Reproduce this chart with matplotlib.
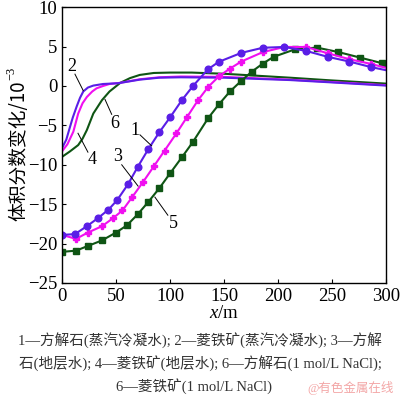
import matplotlib
matplotlib.use('Agg')
import matplotlib.pyplot as plt

plt.rcParams['font.family'] = ['Liberation Serif', 'Noto Sans CJK SC']
plt.rcParams['mathtext.fontset'] = 'custom'
plt.rcParams['mathtext.rm'] = 'Liberation Serif'
plt.rcParams['mathtext.it'] = 'Liberation Serif:italic'

# curve 1: calcite, steam condensate (markers)
x1 = [0, 12, 23, 33, 43, 51, 61, 70, 80, 90, 100, 111, 121, 135, 145, 166, 186, 206, 226, 246, 266, 286, 300]
y1 = [-18.9, -18.8, -17.8, -16.8, -15.7, -14.5, -12.5, -10.3, -8.0, -5.9, -4.0, -1.8, -0.05, 2.1, 3.05, 4.2,
      4.85, 4.95, 4.45, 3.7, 3.1, 2.4, 2.0]
# curve 3: calcite, formation water
x3 = [0, 13, 24, 37, 47, 56, 65, 75, 85, 95, 106, 116, 126, 135.5, 145.5, 155.5, 166, 186, 206, 226, 246, 266, 286, 300]
y3 = [-18.9, -19.4, -18.6, -17.8, -16.8, -15.8, -14.1, -12.2, -10.2, -8.2, -6.0, -3.9, -1.8, -0.1, 1.25, 2.2, 3.1,
      4.3, 4.95, 4.95, 4.15, 3.4, 2.8, 2.3]
# curve 5: calcite, 1 mol/L NaCl
x5 = [0, 13, 24, 37, 50, 60, 70, 80, 90, 100, 111, 121, 135.5, 145.5, 155.5, 166, 175.6, 186, 196, 216, 236, 256,
      276, 296, 300]
y5 = [-21.05, -20.9, -20.3, -19.6, -18.6, -17.7, -16.3, -14.7, -13.0, -11.1, -9.05, -7.15, -4.05, -2.3, -0.7, 0.65,
      1.8, 2.85, 3.7, 4.66, 4.87, 4.3, 3.6, 2.9, 2.7]

# curves 2, 4, 6: siderite (no markers)
x2 = [0, 4, 7.4, 10, 13.6, 16.7, 19.7, 24, 29, 38, 52, 72, 90, 110, 150, 211, 250, 300]
y2 = [-7.9, -6.8, -5.2, -4.0, -2.6, -1.5, -0.7, -0.2, 0.05, 0.25, 0.35, 0.8, 1.05, 1.1, 1.05, 0.75, 0.45, 0.05]
x4 = [0, 5, 10.5, 15, 19, 23, 28, 32, 38, 44, 54, 72, 90, 110, 150, 211, 250, 300]
y4 = [-8.3, -7.4, -5.8, -3.5, -2.2, -1.4, -0.7, -0.3, 0.0, 0.25, 0.4, 0.85, 1.1, 1.2, 1.15, 0.8, 0.5, 0.1]
x6 = [0, 7.4, 15, 19, 23, 29, 37, 44, 54, 63, 72, 85, 100, 120, 150, 211, 250, 300]
y6 = [-9.0, -8.3, -7.5, -6.7, -5.6, -3.5, -1.8, -0.7, 0.4, 1.0, 1.4, 1.65, 1.7, 1.7, 1.55, 1.05, 0.7, 0.3]

blue = '#5a1ee6'
pink = '#f00ff0'
green = '#0f5514'

fig = plt.figure(figsize=(4, 3.98), dpi=100)
ax = fig.add_axes([0.155, 0.289, 0.81, 0.693])

ax.plot(x6, y6, color=green, lw=1.5)
ax.plot(x4, y4, color=pink, lw=1.5)
ax.plot(x2, y2, color=blue, lw=1.5)
ax.plot(x5, y5, color=green, lw=1.5, marker='s', ms=4.3, markevery=slice(0, len(x5) - 1))
ax.plot(x3, y3, color=pink, lw=1.5, marker='P', ms=4.8, markevery=slice(0, len(x3) - 1))
ax.plot(x1, y1, color=blue, lw=1.5, marker='o', ms=4.8, markevery=slice(0, len(x1) - 1))

# curve labels with leader lines
labels = [('1', (67.6, -5.6), (72.2, -6.2), (83, -7.6)),
          ('2', (9, 2.45), (12, 1.5), (19.7, -0.6)),
          ('3', (51.2, -8.9), (55.3, -10.0), (70.4, -12.7)),
          ('4', (27.5, -9.3), (24, -8.4), (14.8, -6.0)),
          ('5', (103, -17.4), (98, -16.4), (86, -14.1)),
          ('6', (49, -4.7), (46, -3.6), (39.8, -1.7))]
for txt, pos, p0, p1 in labels:
    ax.text(pos[0], pos[1], txt, fontsize=13, ha='center', va='center')
    ax.plot([p0[0], p1[0]], [p0[1], p1[1]], color='black', lw=0.7)

ax.set_xlim(0, 300)
ax.set_ylim(-25, 10)
ax.set_xticks([0, 50, 100, 150, 200, 250, 300])
ax.set_yticks([-25, -20, -15, -10, -5, 0, 5, 10])
ax.set_yticklabels(['\u221225', '\u221220', '\u221215', '\u221210', '\u22125', '0', '5', '10'])
ax.tick_params(direction='in', labelsize=13.5, length=3)
for s in ax.spines.values():
    s.set_linewidth(1.0)

ax.set_xlabel('$x$/m', fontsize=13.5, labelpad=0)

# y label: Chinese text plus a separate superscript
ylab = fig.text(19 / 400, 1 - 151 / 398, '体积分数变化/10', rotation=90, ha='center', va='center',
                fontsize=13.5, family=['Noto Sans CJK SC', 'Liberation Serif'])
fig.canvas.draw()
bb = ylab.get_window_extent().transformed(fig.transFigure.inverted())
fig.text(bb.x0 - 0.008, bb.y1 + 0.002, '\u22123', rotation=90, ha='left', va='bottom', fontsize=9)

cap = '#333333'
fig.text(0.5, 1 - 341 / 398, '1—方解石(蒸汽冷凝水); 2—菱铁矿(蒸汽冷凝水); 3—方解',
         ha='center', va='center', fontsize=10.5, color=cap)
fig.text(0.5, 1 - 364 / 398, '石(地层水); 4—菱铁矿(地层水); 6—方解石(1 mol/L NaCl);',
         ha='center', va='center', fontsize=10.5, color=cap)
fig.text(0.485, 1 - 387 / 398, '6—菱铁矿(1 mol/L NaCl)',
         ha='center', va='center', fontsize=10.5, color=cap)
fig.text(0.985, 1 - 388 / 398, '@有色金属在线', ha='right', va='center', fontsize=9, color='#f3a6a6')

fig.savefig('out.png', dpi=100)
